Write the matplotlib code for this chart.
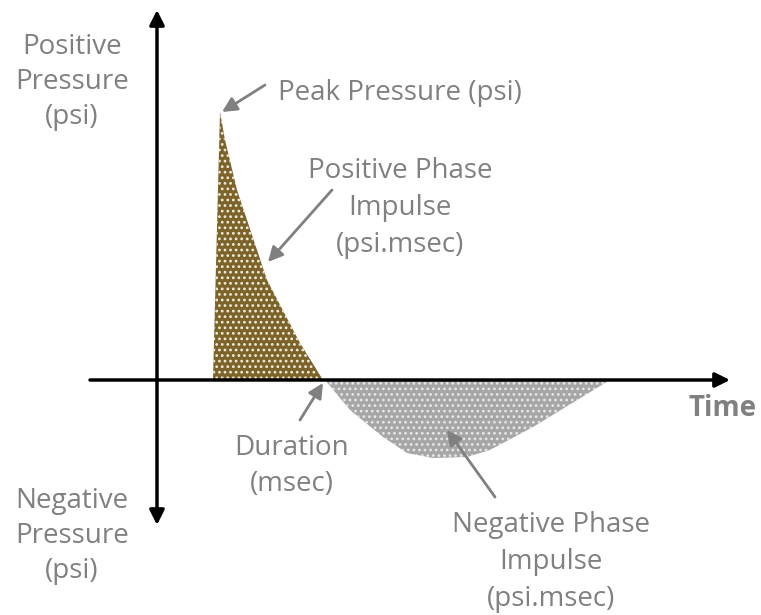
import matplotlib.pyplot as plt

# time / pressure in arbitrary units (origin at the axes crossing)
pos_t = [56, 63, 68, 80, 110, 143, 166]
pos_p = [0, 268, 240, 190, 100, 37, 0]

neg_t = [168, 193, 226, 250, 276, 310, 333, 376, 453]
neg_p = [0, -30, -57, -73, -78, -77, -70, -47, 0]

brown = "#7b632a"
grey = "#a6a6a6"
txt = "#808080"

plt.rcParams["font.family"] = ["Open Sans", "DejaVu Sans"]
plt.rcParams["hatch.linewidth"] = 1.2

fig = plt.figure(figsize=(7.61, 6.15), dpi=100)
ax = fig.add_axes([0, 0, 1, 1])
ax.set_xlim(-157, 604)
ax.set_ylim(-235, 380)
ax.axis("off")

# filled phases with a dotted texture
ax.fill(pos_t, pos_p, color=brown, lw=0)
ax.fill(pos_t, pos_p, facecolor="none", edgecolor="#f0ead8", lw=0, hatch="...")
ax.fill(neg_t, neg_p, color=grey, lw=0)
ax.fill(neg_t, neg_p, facecolor="none", edgecolor="#e6e6e6", lw=0, hatch="...")

# axes
ax.annotate("", xy=(0, 370), xytext=(0, -145),
            arrowprops=dict(arrowstyle="<|-|>", color="black", lw=2.5,
                            mutation_scale=22, shrinkA=0, shrinkB=0))
ax.annotate("", xy=(573, 0), xytext=(-67, 0),
            arrowprops=dict(arrowstyle="-|>", color="black", lw=2.5,
                            mutation_scale=22, shrinkA=0, shrinkB=0))

fs = 20
ls = 1.42
ax.text(-85, 298, "Positive\nPressure\n(psi)", ha="center", va="center",
        color=txt, fontsize=fs, linespacing=1.33)
ax.text(-85, -156, "Negative\nPressure\n(psi)", ha="center", va="center",
        color=txt, fontsize=fs, linespacing=1.33)
ax.text(566, -29, "Time", ha="center", va="center", color=txt,
        fontsize=fs, fontweight="bold")

arr = dict(arrowstyle="-|>", color=txt, lw=2, mutation_scale=22,
           shrinkA=0, shrinkB=0)
ax.text(121, 287, "Peak Pressure (psi)", ha="left", va="center",
        color=txt, fontsize=fs)
ax.annotate("", xy=(65, 268), xytext=(108, 295), arrowprops=arr)

ax.text(243, 172, "Positive Phase\nImpulse\n(psi.msec)", ha="center",
        va="center", color=txt, fontsize=fs, linespacing=ls)
ax.annotate("", xy=(111, 118), xytext=(175, 190), arrowprops=arr)

ax.text(135, -86, "Duration\n(msec)", ha="center", va="center",
        color=txt, fontsize=fs, linespacing=ls)
ax.annotate("", xy=(166, -3), xytext=(143, -40), arrowprops=arr)

ax.text(394, -182, "Negative Phase\nImpulse\n(psi.msec)", ha="center",
        va="center", color=txt, fontsize=fs, linespacing=ls)
ax.annotate("", xy=(290, -50), xytext=(338, -117), arrowprops=arr)

fig.savefig("out.png", dpi=100)
